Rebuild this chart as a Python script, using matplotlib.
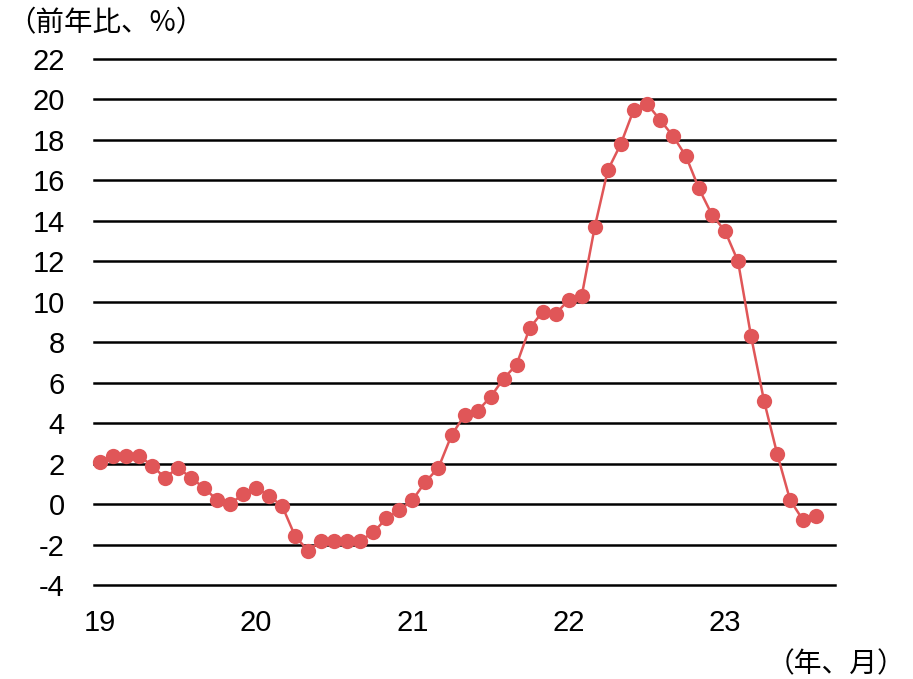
import matplotlib
matplotlib.use("Agg")
import matplotlib.pyplot as plt
import numpy as np

# monthly year-on-year change, Jan 2019 - Aug 2023
values = [
    2.1, 2.4, 2.4, 2.4, 1.9, 1.3, 1.8, 1.3, 0.8, 0.2, 0.0, 0.5,
    0.8, 0.4, -0.1, -1.6, -2.3, -1.8, -1.8, -1.8, -1.8, -1.4, -0.7, -0.3,
    0.2, 1.1, 1.8, 3.4, 4.4, 4.6, 5.3, 6.2, 6.9, 8.7, 9.5, 9.4,
    10.1, 10.3, 13.7, 16.5, 17.8, 19.5, 19.8, 19.0, 18.2, 17.2, 15.6, 14.3,
    13.5, 12.0, 8.3, 5.1, 2.5, 0.2, -0.8, -0.6,
]
year_labels = ["19", "20", "21", "22", "23"]
y_ticks = list(range(-4, 23, 2))

LINE = "#E05658"
NUM_FONT = ["Liberation Sans", "DejaVu Sans"]
JP_FONT = ["Noto Sans CJK JP", "DejaVu Sans"]

fig = plt.figure(figsize=(9.13, 6.79), dpi=100)
ax = fig.add_axes([0.103, 0.1384, 0.8116, 0.7747])

x = np.arange(len(values))
ax.plot(x, values, color=LINE, linewidth=1.8, marker="o", markersize=11,
        markeredgewidth=0, zorder=3, clip_on=False)

ax.set_ylim(-4, 22)
ax.set_xlim(-0.45, 56.45)
ax.set_yticks(y_ticks)
ax.set_yticklabels([str(v) for v in y_ticks], family=NUM_FONT, fontsize=21)
ax.set_xticks(np.arange(len(year_labels)) * 12)
ax.set_xticklabels(year_labels, family=NUM_FONT, fontsize=21)
ax.tick_params(axis="both", length=0, colors="black")
ax.tick_params(axis="y", pad=21)
ax.tick_params(axis="x", pad=17)

# horizontal grid, drawn unclipped so the edge lines keep full width
ax.grid(axis="y", color="black", linewidth=1.8)
for gl in ax.get_ygridlines():
    gl.set_clip_on(False)
ax.set_axisbelow(True)
for s in ax.spines.values():
    s.set_visible(False)

fig.text(0.008, 0.966, "（前年比、%）", family=JP_FONT, fontsize=20.5,
         ha="left", va="center")
fig.text(0.992, 0.022, "（年、月）", family=JP_FONT, fontsize=20,
         ha="right", va="center")

fig.savefig("out.png", dpi=100)
